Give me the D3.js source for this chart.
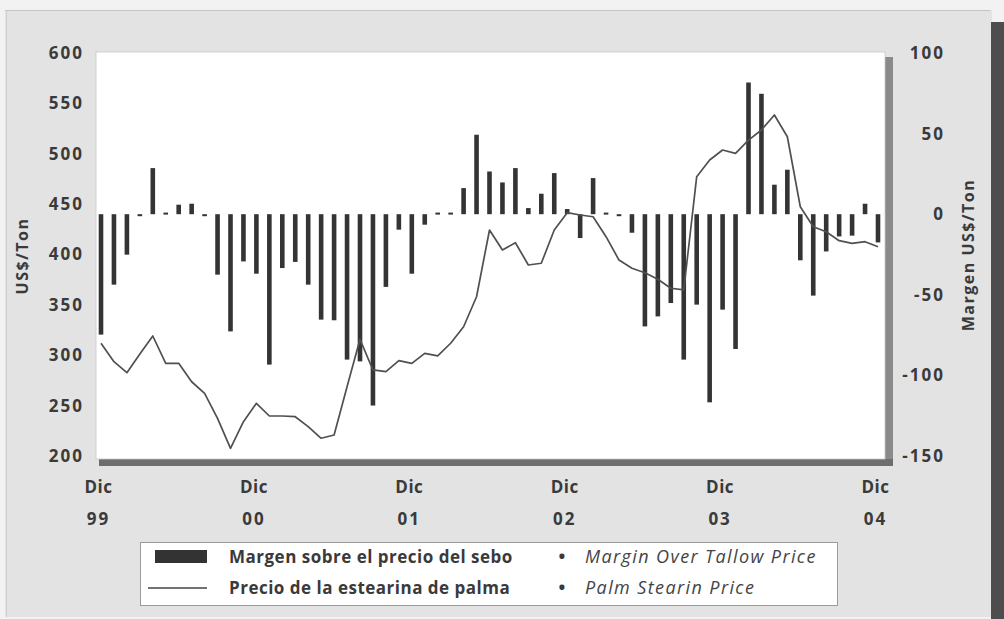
<!DOCTYPE html>
<html><head><meta charset="utf-8">
<script src="https://cdn.jsdelivr.net/npm/d3@7/dist/d3.min.js"></script>
<style>body{margin:0;background:#fff;} svg{display:block}</style>
</head><body>
<svg id="c" width="1004" height="619"></svg>
<script>
// Monthly data, Dic 99 (index 0) .. Dic 04 (index 60)
const margin = [
 -74.7, -43.7, -25.1, -1, 28.6, 1, 5.9, 6.5, -1, -37.5,
 -72.7, -29.3, -36.9, -93.3, -33.4, -29.6, -43.7, -65.4, -65.8, -90.2,
 -91.3, -118.7, -45.1, -9.6, -36.9, -6.5, 1, 1, 16.2, 49.3,
 26.5, 19.7, 28.6, 3.8, 12.7, 25.5, 3.2, -14.8, 22.4, 1,
 -1, -11.5, -69.6, -63.4, -55.1, -90.2, -56.1, -116.7, -59.2, -83.6,
 81.7, 74.7, 18.3, 27.6, -28.6, -50.5, -23.1, -13.8, -13.3, 6.5,
 -17.5
];
const price = [
 311.9, 293.6, 282.7, 301.2, 319.1, 292, 292, 273.7, 262.2, 237.4,
 207.6, 234, 252.3, 239.7, 239.7, 239, 229.1, 217.6, 220.8, 268.8,
 315.8, 285.4, 283.7, 294.6, 292, 301.9, 299.3, 311.9, 328.3, 358.1,
 424.3, 404.5, 411.7, 389.6, 391.3, 424.3, 441.5, 439.2, 437.5, 417.7,
 394.5, 386.3, 381.9, 375.4, 366.5, 364.8, 477.2, 493.8, 503.7, 500.4,
 513.6, 523.6, 538.5, 516.9, 447.4, 427.6, 422.6, 413.7, 411.1, 412.7,
 407.7
];
const priceTicks = [200, 250, 300, 350, 400, 450, 500, 550, 600];
const marginTicks = [-150, -100, -50, 0, 50, 100];
const xTickMonths = [0, 12, 24, 36, 48, 60];
const xTickMonth = ["Dic", "Dic", "Dic", "Dic", "Dic", "Dic"];
const xTickYear = ["99", "00", "01", "02", "03", "04"];
const leftTitle = "US$/Ton";
const rightTitle = "Margen US$/Ton";
const legendBold = ["Margen sobre el precio del sebo", "Precio de la estearina de palma"];
const legendItalic = ["Margin Over Tallow Price", "Palm Stearin Price"];

const svg = d3.select("#c");
const txt = "#3a3a3a";
const font = "'Open Sans', 'DejaVu Sans', sans-serif";

// background panel
svg.append("rect").attr("x",0).attr("y",0).attr("width",1004).attr("height",619).attr("fill","#f2f2f2");
svg.append("rect").attr("x",5).attr("y",10).attr("width",987).attr("height",607).attr("fill","#e3e3e3");
svg.append("line").attr("x1",5).attr("x2",990).attr("y1",10.5).attr("y2",10.5).attr("stroke","#c4c4c4");
svg.append("line").attr("x1",6.5).attr("x2",6.5).attr("y1",10).attr("y2",617).attr("stroke","#cfcfcf");
svg.append("rect").attr("x",991).attr("y",22).attr("width",13).attr("height",597).attr("fill","#4d4d4d");

// scales
const x = d3.scaleLinear().domain([0, 60]).range([101, 878]);
const yL = d3.scaleLinear().domain([200, 600]).range([456, 53]);
const yR = d3.scaleLinear().domain([-150, 100]).range([456, 53]);

// plot frame with shadow
svg.append("rect").attr("x",885).attr("y",57).attr("width",8).attr("height",409).attr("fill","#8a8a8a");
svg.append("rect").attr("x",99).attr("y",459).attr("width",794).attr("height",7).attr("fill","#6e6e6e");
svg.append("rect").attr("x",96).attr("y",52).attr("width",789).attr("height",407)
  .attr("fill","#ffffff").attr("stroke","#c8c8c8").attr("stroke-width",0.8);

// bars
const bw = 4.6;
svg.append("g").selectAll("rect").data(margin).join("rect")
  .attr("x", (d,i) => x(i) - bw/2)
  .attr("y", d => d >= 0 ? yR(d) : yR(0))
  .attr("width", bw)
  .attr("height", d => Math.max(2, Math.abs(yR(d) - yR(0))))
  .attr("fill", "#343434");

// line
const line = d3.line().x((d,i) => x(i)).y(d => yL(d));
svg.append("path").datum(price).attr("d", line)
  .attr("fill","none").attr("stroke","#505050").attr("stroke-width",1.7).attr("stroke-linejoin","round");

function styleAxis(g, size, ls) {
  g.select(".domain").remove();
  g.selectAll("line").remove();
  g.selectAll("text").attr("font-family", font).attr("font-weight", "bold")
    .attr("font-size", size).attr("fill", txt).style("letter-spacing", ls + "px");
}
const plain = d => String(d);

// left axis
svg.append("g").attr("transform","translate(84,0)")
  .call(d3.axisLeft(yL).tickValues(priceTicks).tickSize(0).tickPadding(0).tickFormat(plain))
  .call(g => styleAxis(g, 17, 2));

// right axis
svg.append("g").attr("transform","translate(945,0)")
  .call(d3.axisLeft(yR).tickValues(marginTicks).tickSize(0).tickPadding(0).tickFormat(plain))
  .call(g => styleAxis(g, 17, 2));

// x axis: two label rows
svg.append("g").attr("transform","translate(-3,481)")
  .call(d3.axisBottom(x).tickValues(xTickMonths).tickSize(0).tickPadding(0)
    .tickFormat((d,i) => xTickMonth[i]))
  .call(g => styleAxis(g, 17, 0.5));
svg.append("g").attr("transform","translate(-3,513)")
  .call(d3.axisBottom(x).tickValues(xTickMonths).tickSize(0).tickPadding(0)
    .tickFormat((d,i) => xTickYear[i]))
  .call(g => styleAxis(g, 17, 2));

// axis titles
svg.append("text").attr("transform","translate(28,256) rotate(-90)")
  .attr("text-anchor","middle").attr("font-family",font).attr("font-weight","bold")
  .attr("font-size",16).attr("fill",txt).style("letter-spacing","1.5px").text(leftTitle);
svg.append("text").attr("transform","translate(974,255) rotate(-90)")
  .attr("text-anchor","middle").attr("font-family",font).attr("font-weight","bold")
  .attr("font-size",16).attr("fill",txt).style("letter-spacing","1.5px").text(rightTitle);

// legend
const lg = svg.append("g");
lg.append("rect").attr("x",140.5).attr("y",542.5).attr("width",697).attr("height",63)
  .attr("fill","#ffffff").attr("stroke","#9a9a9a").attr("stroke-width",1);
lg.append("rect").attr("x",155).attr("y",550).attr("width",52).attr("height",13).attr("fill","#333");
lg.append("line").attr("x1",148).attr("x2",207).attr("y1",588).attr("y2",588)
  .attr("stroke","#444").attr("stroke-width",1.5);
[0,1].forEach(k => {
  const yb = k === 0 ? 563 : 594;
  lg.append("text").attr("x",229).attr("y",yb).attr("font-family",font).attr("font-weight","bold")
    .attr("font-size",17).attr("fill",txt).style("letter-spacing","0.5px").text(legendBold[k]);
  lg.append("text").attr("x",562).attr("y",yb).attr("text-anchor","middle").attr("font-family",font)
    .attr("font-weight","bold").attr("font-size",18).attr("fill",txt).text("•");
  lg.append("text").attr("x",585).attr("y",yb).attr("font-family",font).attr("font-style","italic")
    .attr("font-size",18).attr("fill","#444").style("letter-spacing","1.4px").text(legendItalic[k]);
});
</script>
</body></html>
